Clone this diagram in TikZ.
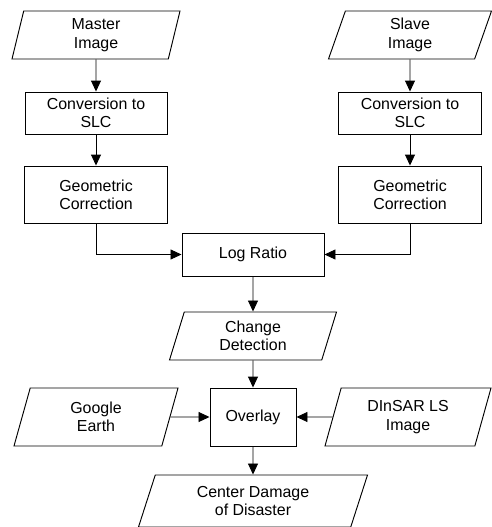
\documentclass[tikz,border=0pt]{standalone}
\usepackage{fontspec}
\setmainfont{Liberation Sans}
\usepackage{tikz}
\usetikzlibrary{arrows.meta,shapes.geometric}
\tikzset{processbox/.style={draw,rectangle,align=center,line width=0.8pt,inner sep=2pt},
    slantbox/.style={draw,trapezium,trapezium left angle=#1,trapezium right angle={180-#1},
        trapezium stretches body,align=center,line width=0.8pt,inner sep=2pt},
    slantbox/.default=65,
    flowline/.style={-{Triangle[length=0.33cm,width=0.3cm]},line width=0.8pt}
}

\begin{document}
\begin{tikzpicture}[x=0.03cm,y=-0.03cm,font=\fontsize{13.6pt}{15.7pt}\selectfont]

\useasboundingbox (0,0) rectangle (491,527);

% two input chains
\node (master) [slantbox=72.6,minimum width=5.04cm,minimum height=1.44cm] at (96,35) {Master\\Image};
\node (slave) [slantbox=66,minimum width=4.89cm,minimum height=1.44cm] at (410,35) {Slave\\Image};

\node (conv1) [processbox,minimum width=4.26cm,minimum height=1.26cm] at (96,113) {Conversion to\\SLC};
\node (conv2) [processbox,minimum width=4.29cm,minimum height=1.26cm] at (410,113) {Conversion to\\SLC};

\node (geo1) [processbox,minimum width=4.29cm,minimum height=1.71cm] at (96,194.5) {Geometric\\Correction};
\node (geo2) [processbox,minimum width=4.29cm,minimum height=1.71cm] at (410,194.5) {Geometric\\Correction};

% middle column
\node (logratio) [processbox,minimum width=4.26cm,minimum height=1.29cm] at (253,254.5) {Log Ratio};
\node (change) [slantbox=67,minimum width=5.01cm,minimum height=1.44cm] at (253,336) {Change\\Detection};
\node (overlay) [processbox,minimum width=2.58cm,minimum height=1.74cm] at (253,417) {Overlay};
\node (google) [slantbox=65,minimum width=4.92cm,minimum height=1.74cm] at (96,417) {Google\\Earth};
\node (dinsar) [slantbox=66.7,minimum width=4.98cm,minimum height=1.74cm] at (408,417) {DInSAR LS\\Image};
\node (damage) [slantbox=64,minimum width=6.87cm,minimum height=1.56cm] at (253,501) {Center Damage\\of Disaster};

\draw [flowline] (master) -- (conv1);
\draw [flowline] (slave) -- (conv2);
\draw [flowline] (conv1) -- (geo1);
\draw [flowline] (conv2) -- (geo2);
\draw [flowline] (geo1) |- (logratio);
\draw [flowline] (geo2) |- (logratio);
\draw [flowline] (logratio) -- (change);
\draw [flowline] (change) -- (overlay);
\draw [flowline] (google) -- (overlay);
\draw [flowline] (dinsar) -- (overlay);
\draw [flowline] (overlay) -- (damage);

\end{tikzpicture}
\end{document}
